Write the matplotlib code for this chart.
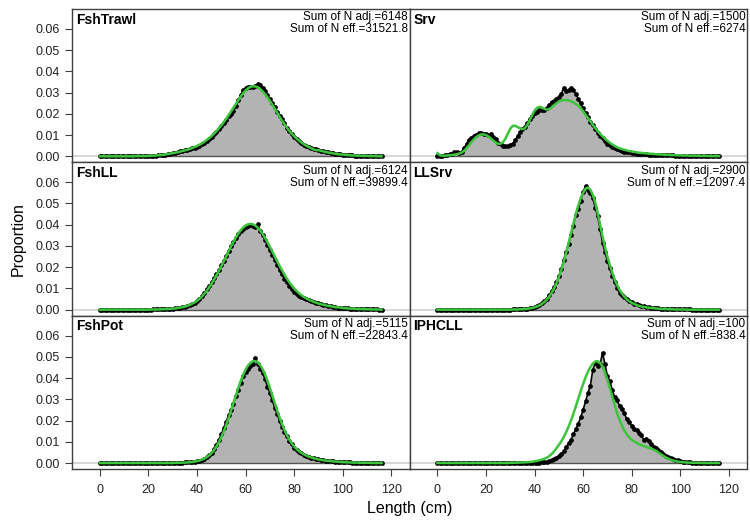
import matplotlib
matplotlib.use('Agg')
import matplotlib.pyplot as plt
import numpy as np

plt.rcParams['font.family'] = ['Liberation Sans', 'DejaVu Sans']

# length bins (cm)
length_bins = list(range(0, 117))

fleets = ["FshTrawl", "Srv", "FshLL", "LLSrv", "FshPot", "IPHCLL"]
n_adj = ["6148", "1500", "6124", "2900", "5115", "100"]
n_eff = ["31521.8", "6274", "39899.4", "12097.4", "22843.4", "838.4"]

# observed / expected proportions, in units of 1e-3, one value per bin
obs_fshtrawl = [
    0, 0, 0, 0, 0, 0, 0, 0, 0, 0,
    0, 0, 0, 0, 0, 0.1, 0.1, 0.1, 0.1, 0.1,
    0.2, 0.2, 0.3, 0.3, 0.4, 0.5, 0.6, 0.8, 1.0, 1.2,
    1.5, 1.7, 2.0, 2.3, 2.5, 2.8, 3.1, 3.3, 3.7, 4.0,
    4.5, 5.0, 5.8, 6.5, 7.2, 8.0, 9.2, 10.3, 11.5, 12.8,
    14.3, 15.5, 17.2, 18.8, 20.0, 21.2, 23.5, 26.5, 29.0, 31.0,
    32.0, 32.8, 32.8, 32.6, 33.2, 34.0, 33.4, 32.1, 30.6, 28.8,
    26.9, 25.3, 23.2, 21.0, 19.2, 17.4, 15.6, 13.5, 12.0, 10.5,
    9.2, 8.1, 7.0, 6.2, 5.3, 4.8, 4.3, 3.9, 3.6, 3.3,
    3.0, 2.7, 2.4, 2.1, 1.8, 1.6, 1.4, 1.2, 1.0, 0.9,
    0.7, 0.6, 0.5, 0.4, 0.4, 0.3, 0.3, 0.2, 0.2, 0.2,
    0.1, 0.1, 0.1, 0.1, 0.1, 0.0, 0.0]
exp_fshtrawl = [
    0, 0, 0, 0, 0, 0, 0, 0, 0, 0,
    0, 0, 0, 0, 0, 0.1, 0.1, 0.1, 0.1, 0.1,
    0.2, 0.3, 0.3, 0.4, 0.5, 0.6, 0.7, 0.9, 1.1, 1.3,
    1.5, 1.7, 1.9, 2.2, 2.5, 2.8, 3.1, 3.5, 3.9, 4.4,
    4.9, 5.5, 6.1, 6.9, 7.7, 8.6, 9.6, 10.7, 11.9, 13.2,
    14.6, 16.1, 17.7, 19.4, 21.1, 22.9, 24.7, 26.5, 28.2, 29.7,
    31.0, 32.0, 32.7, 33.0, 32.9, 32.5, 31.7, 30.6, 29.3, 27.8,
    26.1, 24.3, 22.4, 20.5, 18.6, 16.8, 15.1, 13.5, 12.0, 10.7,
    9.5, 8.4, 7.4, 6.5, 5.7, 5.0, 4.4, 3.8, 3.3, 2.9,
    2.9, 2.6, 2.3, 2.0, 1.8, 1.6, 1.4, 1.2, 1.0, 0.9,
    0.8, 0.7, 0.6, 0.5, 0.4, 0.4, 0.3, 0.3, 0.2, 0.2,
    0.2, 0.1, 0.1, 0.1, 0.1, 0.0, 0.0]

obs_srv = [
    0.0, 0.1, 0.3, 0.5, 0.8, 1.0, 1.3, 1.8, 2.0, 1.5,
    2.2, 3.8, 6.0, 7.8, 8.6, 9.4, 10.2, 10.8, 11.1, 10.7,
    10.4, 10.0, 10.3, 9.2, 8.0, 6.5, 5.6, 5.0, 4.8, 4.7,
    5.2, 6.0, 7.5, 9.5, 11.3, 12.8, 14.0, 15.8, 17.4, 19.2,
    20.2, 21.0, 21.8, 22.0, 21.7, 22.8, 24.2, 25.5, 26.0, 27.0,
    27.8, 29.4, 32.2, 30.8, 31.2, 32.0, 31.0, 29.4, 27.2, 25.0,
    22.6, 20.5, 18.3, 16.2, 14.8, 13.0, 11.2, 9.8, 8.4, 7.2,
    6.0, 5.2, 4.5, 3.8, 3.3, 2.8, 2.5, 2.2, 2.0, 1.8,
    1.6, 1.4, 1.3, 1.2, 1.1, 1.0, 0.9, 0.8, 0.8, 0.7,
    0.6, 0.6, 0.5, 0.5, 0.5, 0.4, 0.4, 0.4, 0.3, 0.3,
    0.3, 0.3, 0.2, 0.2, 0.2, 0.2, 0.1, 0.1, 0.1, 0.1,
    0.1, 0.1, 0.1, 0.1, 0.0, 0.0, 0.0]
exp_srv = [
    1.5, 0.5, 0.3, 0.3, 0.4, 0.5, 0.6, 0.8, 1.0, 1.3,
    1.8, 2.6, 3.8, 5.2, 6.7, 8.0, 9.1, 9.8, 10.3, 10.3,
    10.0, 9.3, 8.4, 7.4, 6.5, 5.9, 5.9, 6.6, 8.3, 10.7,
    13.0, 14.3, 14.4, 13.8, 13.2, 12.8, 13.2, 14.8, 17.0, 19.4,
    21.5, 22.8, 23.3, 23.0, 22.4, 22.0, 22.2, 23.0, 24.0, 25.0,
    25.8, 26.3, 26.5, 26.5, 26.3, 26.0, 25.4, 24.6, 23.8, 22.6,
    21.2, 19.6, 18.0, 16.5, 14.8, 13.3, 11.9, 10.6, 9.4, 8.3,
    7.3, 6.4, 5.6, 4.9, 4.3, 3.8, 3.4, 3.1, 2.8, 2.5,
    2.3, 2.1, 1.9, 1.7, 1.6, 1.5, 1.4, 1.3, 1.2, 1.1,
    1.0, 0.9, 0.9, 0.8, 0.7, 0.7, 0.6, 0.6, 0.5, 0.5,
    0.5, 0.4, 0.4, 0.4, 0.3, 0.3, 0.3, 0.3, 0.2, 0.2,
    0.2, 0.2, 0.1, 0.1, 0.1, 0.1, 0.1]

obs_fshll = [
    0, 0, 0, 0, 0, 0, 0, 0, 0, 0,
    0, 0, 0, 0, 0, 0, 0, 0, 0, 0,
    0.0, 0.0, 0.1, 0.1, 0.1, 0.2, 0.2, 0.3, 0.3, 0.4,
    0.5, 0.6, 0.7, 0.9, 1.1, 1.4, 1.7, 2.1, 2.6, 3.3,
    4.2, 5.2, 6.5, 7.9, 9.5, 11.2, 12.9, 14.8, 16.7, 18.7,
    20.9, 23.1, 25.4, 27.7, 29.9, 31.9, 33.9, 35.5, 36.9, 38.1,
    38.9, 39.6, 40.0, 39.6, 38.8, 40.2, 37.2, 35.0, 32.8, 30.5,
    28.0, 25.7, 23.4, 21.0, 18.8, 16.6, 14.6, 12.8, 11.2, 9.8,
    8.4, 7.4, 6.6, 6.0, 5.4, 4.9, 4.5, 4.1, 3.7, 3.3,
    3.0, 2.7, 2.4, 2.1, 1.8, 1.6, 1.4, 1.2, 1.0, 0.9,
    0.8, 0.7, 0.6, 0.5, 0.4, 0.4, 0.3, 0.3, 0.2, 0.2,
    0.2, 0.1, 0.1, 0.1, 0.1, 0.0, 0.0]
exp_fshll = [
    0, 0, 0, 0, 0, 0, 0, 0, 0, 0,
    0, 0, 0, 0, 0, 0, 0, 0, 0, 0,
    0.0, 0.1, 0.1, 0.1, 0.1, 0.2, 0.2, 0.3, 0.3, 0.4,
    0.5, 0.6, 0.8, 1.0, 1.2, 1.5, 1.8, 2.3, 2.8, 3.4,
    4.2, 5.1, 6.2, 7.5, 8.9, 10.5, 12.3, 14.2, 16.2, 18.3,
    20.5, 22.8, 25.1, 27.5, 29.8, 32.0, 34.0, 35.8, 37.4, 38.7,
    39.6, 40.2, 40.4, 40.2, 39.6, 38.6, 37.3, 35.7, 33.8, 31.8,
    29.6, 27.4, 25.1, 22.8, 20.6, 18.5, 16.5, 14.6, 12.9, 11.4,
    10.0, 8.8, 7.7, 6.8, 6.0, 5.3, 4.7, 4.2, 3.7, 3.3,
    2.9, 2.6, 2.3, 2.0, 1.8, 1.6, 1.4, 1.2, 1.1, 1.0,
    0.8, 0.7, 0.6, 0.5, 0.5, 0.4, 0.3, 0.3, 0.3, 0.2,
    0.2, 0.2, 0.1, 0.1, 0.1, 0.1, 0.0]

obs_llsrv = [
    0, 0, 0, 0, 0, 0, 0, 0, 0, 0,
    0, 0, 0, 0, 0, 0, 0, 0, 0, 0,
    0, 0, 0, 0, 0, 0, 0, 0, 0, 0,
    0.0, 0.1, 0.1, 0.1, 0.2, 0.3, 0.4, 0.5, 0.7, 1.0,
    1.4, 1.9, 2.4, 3.0, 4.0, 5.2, 6.8, 8.6, 10.5, 13.0,
    15.8, 19.2, 23.3, 27.3, 31.0, 35.0, 39.5, 44.8, 47.5, 51.0,
    55.5, 58.2, 56.5, 55.0, 52.5, 48.0, 44.0, 38.0, 31.5, 27.0,
    23.0, 19.5, 16.0, 13.0, 10.2, 8.0, 6.8, 5.8, 4.9, 4.1,
    3.4, 2.9, 2.5, 2.2, 1.9, 1.6, 1.4, 1.2, 1.0, 0.9,
    0.7, 0.6, 0.5, 0.4, 0.4, 0.3, 0.3, 0.2, 0.2, 0.2,
    0.1, 0.1, 0.1, 0.1, 0.1, 0.0, 0.0, 0.0, 0.0, 0.0,
    0, 0, 0, 0, 0, 0, 0]
exp_llsrv = [
    0, 0, 0, 0, 0, 0, 0, 0, 0, 0,
    0, 0, 0, 0, 0, 0, 0, 0, 0, 0,
    0, 0, 0, 0, 0, 0, 0, 0, 0, 0,
    0.0, 0.1, 0.1, 0.1, 0.2, 0.2, 0.3, 0.4, 0.6, 0.8,
    1.1, 1.5, 2.0, 2.7, 3.6, 4.7, 6.1, 7.8, 9.9, 12.4,
    15.3, 18.7, 22.5, 26.7, 31.2, 35.9, 40.6, 45.0, 49.0, 52.5,
    55.0, 57.0, 57.5, 56.5, 54.0, 50.5, 45.5, 40.0, 34.5, 29.5,
    25.0, 21.0, 17.5, 14.3, 11.6, 9.4, 7.6, 6.1, 4.9, 4.0,
    3.3, 2.7, 2.2, 1.8, 1.5, 1.3, 1.1, 0.9, 0.8, 0.7,
    0.6, 0.5, 0.4, 0.3, 0.3, 0.2, 0.2, 0.2, 0.1, 0.1,
    0.1, 0.1, 0.1, 0.0, 0.0, 0.0, 0.0, 0.0, 0.0, 0.0,
    0, 0, 0, 0, 0, 0, 0]

obs_fshpot = [
    0, 0, 0, 0, 0, 0, 0, 0, 0, 0,
    0, 0, 0, 0, 0, 0, 0, 0, 0, 0,
    0, 0, 0, 0, 0, 0, 0, 0, 0, 0,
    0.1, 0.1, 0.1, 0.2, 0.2, 0.3, 0.3, 0.4, 0.5, 0.6,
    0.8, 1.0, 1.4, 2.0, 2.7, 3.6, 4.8, 6.6, 8.6, 11.0,
    13.5, 16.5, 19.5, 22.5, 25.0, 28.0, 31.5, 34.5, 37.5, 41.0,
    43.0, 44.5, 45.5, 46.5, 49.6, 46.5, 44.5, 42.5, 39.5, 36.0,
    33.0, 29.5, 26.0, 23.0, 20.0, 17.0, 14.8, 12.5, 10.5, 8.8,
    7.2, 6.3, 5.4, 4.6, 4.0, 3.4, 3.0, 2.6, 2.3, 2.0,
    1.7, 1.5, 1.3, 1.1, 1.0, 0.9, 0.8, 0.7, 0.6, 0.5,
    0.4, 0.4, 0.3, 0.3, 0.2, 0.2, 0.2, 0.1, 0.1, 0.1,
    0.1, 0, 0, 0, 0, 0, 0]
exp_fshpot = [
    0, 0, 0, 0, 0, 0, 0, 0, 0, 0,
    0, 0, 0, 0, 0, 0, 0, 0, 0, 0,
    0, 0, 0, 0, 0, 0, 0, 0, 0, 0,
    0.0, 0.1, 0.1, 0.1, 0.2, 0.2, 0.3, 0.4, 0.5, 0.7,
    0.9, 1.2, 1.6, 2.1, 2.8, 3.6, 4.7, 6.1, 7.8, 9.8,
    12.2, 14.9, 17.9, 21.2, 24.7, 28.3, 31.9, 35.4, 38.7, 41.6,
    44.0, 45.9, 47.2, 47.9, 48.0, 47.4, 46.1, 44.2, 41.7, 38.7,
    35.4, 31.9, 28.3, 24.8, 21.5, 18.4, 15.6, 13.2, 11.1, 9.3,
    7.8, 6.6, 5.6, 4.8, 4.1, 3.5, 3.0, 2.6, 2.3, 2.0,
    1.7, 1.5, 1.3, 1.1, 1.0, 0.9, 0.8, 0.7, 0.6, 0.5,
    0.4, 0.4, 0.3, 0.3, 0.2, 0.2, 0.2, 0.1, 0.1, 0.1,
    0.1, 0.1, 0, 0, 0, 0, 0]

obs_iphcll = [
    0, 0, 0, 0, 0, 0, 0, 0, 0, 0,
    0, 0, 0, 0, 0, 0, 0, 0, 0, 0,
    0, 0, 0, 0, 0, 0, 0, 0, 0, 0,
    0, 0, 0, 0, 0, 0, 0, 0, 0, 0,
    0.1, 0.1, 0.2, 0.3, 0.4, 0.5, 0.8, 1.2, 1.7, 2.3,
    3.2, 4.1, 5.5, 7.5, 9.2, 11.0, 13.5, 16.0, 18.5, 21.5,
    25.0, 29.0, 33.0, 36.5, 44.0, 47.0, 45.5, 46.5, 52.0, 46.5,
    41.0, 38.5, 34.5, 31.0, 29.5, 27.0, 25.5, 23.5, 20.5, 19.5,
    17.5, 16.0, 15.5, 14.0, 13.0, 11.0, 11.5, 10.5, 9.0, 7.5,
    7.0, 6.0, 5.0, 4.2, 3.5, 3.0, 2.4, 1.8, 1.5, 1.2,
    0.9, 0.7, 0.5, 0.4, 0.3, 0.2, 0.2, 0.1, 0.1, 0.1,
    0.1, 0, 0, 0, 0, 0, 0]
exp_iphcll = [
    0, 0, 0, 0, 0, 0, 0, 0, 0, 0,
    0, 0, 0, 0, 0, 0, 0, 0, 0, 0,
    0, 0, 0, 0, 0, 0, 0, 0, 0, 0,
    0.1, 0.1, 0.1, 0.2, 0.2, 0.3, 0.3, 0.4, 0.5, 0.6,
    0.8, 1.0, 1.3, 1.6, 2.0, 2.5, 3.2, 4.2, 5.4, 6.9,
    8.5, 10.2, 12.2, 14.5, 17.1, 20.0, 23.2, 26.7, 30.3, 33.8,
    37.2, 40.3, 43.0, 45.2, 46.8, 47.8, 48.0, 47.2, 45.3, 42.6,
    39.2, 35.3, 31.2, 27.2, 23.5, 20.3, 17.6, 15.3, 13.5, 12.0,
    11.0, 10.2, 9.5, 8.9, 8.4, 8.0, 7.6, 7.2, 6.8, 6.3,
    5.8, 5.0, 4.2, 3.4, 2.7, 2.1, 1.6, 1.2, 0.9, 0.7,
    0.5, 0.4, 0.3, 0.2, 0.2, 0.1, 0.1, 0.1, 0.1, 0.0,
    0, 0, 0, 0, 0, 0, 0]

obs_all = [obs_fshtrawl, obs_srv, obs_fshll, obs_llsrv, obs_fshpot, obs_iphcll]
exp_all = [exp_fshtrawl, exp_srv, exp_fshll, exp_llsrv, exp_fshpot, exp_iphcll]

fig, axes = plt.subplots(3, 2, figsize=(7.5, 5.24), dpi=100, sharex=True, sharey=True)
fig.subplots_adjust(left=0.096, right=0.996, top=0.983, bottom=0.105,
                    hspace=0, wspace=0)

x = np.array(length_bins)
for i, ax in enumerate(axes.flat):
    obs = np.array(obs_all[i]) / 1000.
    exp = np.array(exp_all[i]) / 1000.
    ax.axhline(0, color='#cfcfcf', lw=1.2, zorder=1)
    ax.fill_between(x, 0, obs, color='#b3b3b3', lw=0, zorder=2)
    ax.plot([x[0], x[-1]], [0, 0], color='#555555', lw=1, zorder=2)
    ax.plot(x, obs, color='black', lw=1.2, marker='o', ms=2.4, zorder=3)
    ax.plot(x, exp, color='#3cc43c', lw=1.8, zorder=4)

    ax.text(0.012, 0.975, fleets[i], transform=ax.transAxes, ha='left', va='top',
            fontsize=10, fontweight='bold')
    ax.text(0.995, 0.985, "Sum of N adj.=" + n_adj[i] + "\nSum of N eff.=" + n_eff[i],
            transform=ax.transAxes, ha='right', va='top', fontsize=8.5, linespacing=1.0)

    for s in ax.spines.values():
        s.set_color('#404040')
        s.set_linewidth(1.0)
    ax.tick_params(direction='out', length=5, width=0.8, color='#404040',
                   labelsize=9, labelcolor='#222222', pad=4)
    ax.tick_params(axis='x', pad=6)
    if i % 2 == 1:
        ax.tick_params(left=False, labelleft=False)
    if i < 4:
        ax.tick_params(bottom=False, labelbottom=False)

ax = axes[0, 0]
ax.set_xlim(-11.5, 127.5)
ax.set_ylim(-0.0028, 0.0694)
ax.set_xticks(range(0, 121, 20))
ax.set_yticks(np.arange(0, 0.061, 0.01))
ax.yaxis.set_major_formatter(matplotlib.ticker.FormatStrFormatter('%.2f'))

fig.text(0.025, 0.544, "Proportion", rotation=90, ha='center', va='center', fontsize=11.5)
fig.text(0.546, 0.03, "Length (cm)", ha='center', va='center', fontsize=11.5)

plt.savefig('out.png', dpi=100)
